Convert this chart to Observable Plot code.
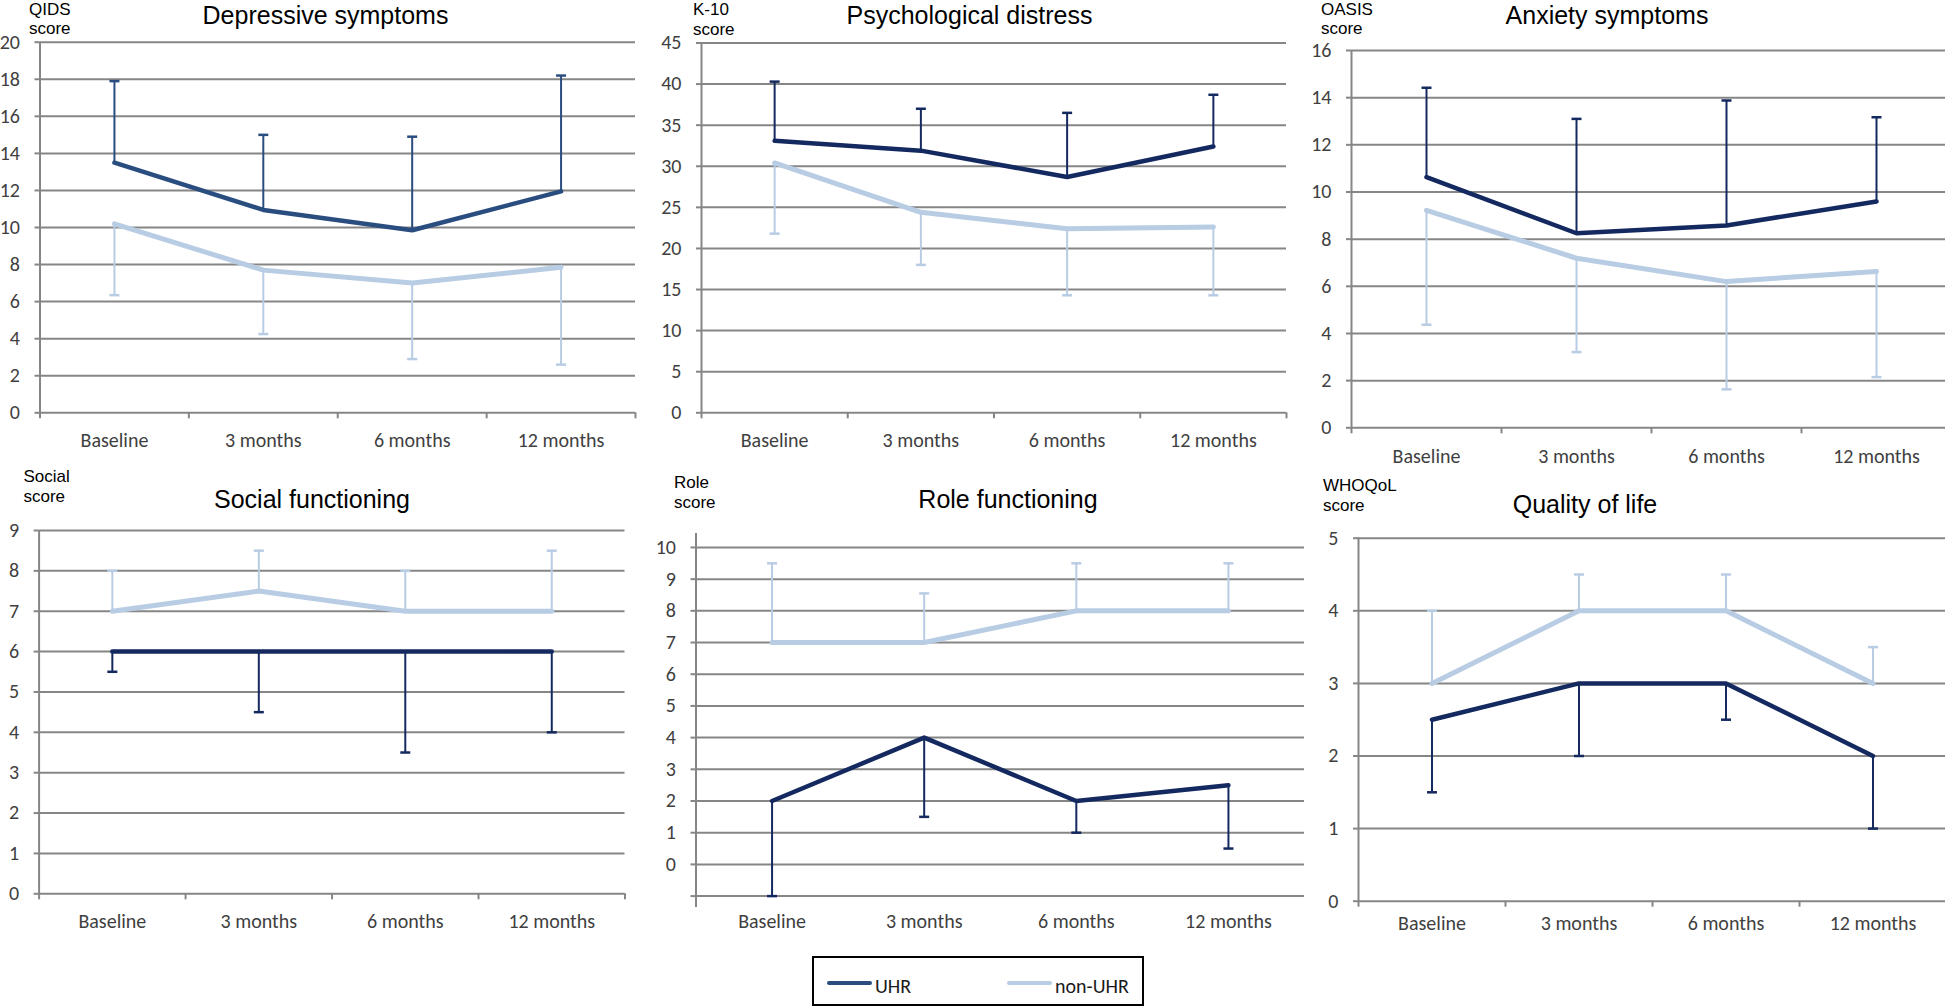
<!DOCTYPE html>
<html>
<head>
<meta charset="utf-8">
<script src="https://cdn.jsdelivr.net/npm/d3@7"></script>
<script src="https://cdn.jsdelivr.net/npm/@observablehq/plot@0.6"></script>
<style>
  html, body { margin: 0; padding: 0; background: #fff; }
  #root { position: relative; width: 1945px; height: 1006px; overflow: hidden; background: #fff;
          font-family: "Liberation Sans", Arial, sans-serif; }
  .t { position: absolute; white-space: nowrap; color: #000; }
  .panel { position: absolute; }
  .panel svg { overflow: visible; max-width: none !important; }
</style>
</head>
<body>
<div id="root"></div>
<script>
// ---------------- DATA ----------------
const timepoints = ["Baseline", "3 months", "6 months", "12 months"];
const seriesNames = ["UHR", "non-UHR"];

// Depressive symptoms (QIDS)
const depUHR      = [13.5, 10.95, 9.85, 11.95];
const depUHRErr   = [17.9, 15.0, 14.9, 18.2];
const depNon      = [10.2, 7.7, 7.0, 7.85];
const depNonErr   = [6.35, 4.25, 2.9, 2.6];
const depTicks    = [0, 2, 4, 6, 8, 10, 12, 14, 16, 18, 20];

// Psychological distress (K-10)
const k10UHR      = [33.1, 31.9, 28.7, 32.4];
const k10UHRErr   = [40.3, 37.0, 36.5, 38.7];
const k10Non      = [30.4, 24.4, 22.4, 22.6];
const k10NonErr   = [21.8, 18.0, 14.3, 14.3];
const k10Ticks    = [0, 5, 10, 15, 20, 25, 30, 35, 40, 45];

// Anxiety symptoms (OASIS)
const oasisUHR    = [10.63, 8.25, 8.58, 9.6];
const oasisUHRErr = [14.42, 13.1, 13.88, 13.17];
const oasisNon    = [9.22, 7.19, 6.2, 6.63];
const oasisNonErr = [4.37, 3.21, 1.63, 2.15];
const oasisTicks  = [0, 2, 4, 6, 8, 10, 12, 14, 16];

// Social functioning
const socUHR      = [6, 6, 6, 6];
const socUHRErr   = [5.5, 4.5, 3.5, 4.0];
const socNon      = [7, 7.5, 7, 7];
const socNonErr   = [8, 8.5, 8, 8.5];
const socTicks    = [0, 1, 2, 3, 4, 5, 6, 7, 8, 9];

// Role functioning
const roleUHR     = [2, 4, 2, 2.5];
const roleUHRErr  = [-1, 1.5, 1, 0.5];
const roleNon     = [7, 7, 8, 8];
const roleNonErr  = [9.5, 8.55, 9.5, 9.5];
const roleGrid    = [-1, 0, 1, 2, 3, 4, 5, 6, 7, 8, 9, 10];
const roleTicks   = [0, 1, 2, 3, 4, 5, 6, 7, 8, 9, 10];

// Quality of life (WHOQoL)
const qolUHR      = [2.5, 3, 3, 2];
const qolUHRErr   = [1.5, 2, 2.5, 1];
const qolNon      = [3, 4, 4, 3];
const qolNonErr   = [4, 4.5, 4.5, 3.5];
const qolTicks    = [0, 1, 2, 3, 4, 5];

// ---------------- STYLE ----------------
const GRID = "#868686";
const TICKTXT = "#3f3f3f";
const NON_COLOR = "#b8cce4";
const UHR_LIGHT = "#2a4d80";
const UHR_DARK = "#14295f";
const TICK_FONT = "Carlito, 'Liberation Sans', Arial, sans-serif";
const TICK_SIZE = 20;

const capSymbol = {
  draw(ctx, size) {
    const r = Math.sqrt(size / Math.PI);
    ctx.moveTo(-r, 0);
    ctx.lineTo(r, 0);
  }
};

const panels = [
  { title: "Depressive symptoms", unit: "QIDS",
    uhr: depUHR, uhrErr: depUHRErr, non: depNon, nonErr: depNonErr,
    domain: [0, 20], grid: depTicks, labels: depTicks, uhrColor: UHR_LIGHT, xTicks: true,
    L: { left: 0, top: 0, w: 650, h: 470, x0: 39.5, x1: 635, yTop: 41.7, yBot: 412.3, pad: 20,
         tx: 325.5, tb: 24, ux: 29, ub1: 16, ub2: 35 } },
  { title: "Psychological distress", unit: "K-10",
    uhr: k10UHR, uhrErr: k10UHRErr, non: k10Non, nonErr: k10NonErr,
    domain: [0, 45], grid: k10Ticks, labels: k10Ticks, uhrColor: UHR_DARK, xTicks: true,
    L: { left: 650, top: 0, w: 650, h: 470, x0: 701, x1: 1286, yTop: 42.5, yBot: 412.3, pad: 20,
         tx: 969.5, tb: 24, ux: 693, ub1: 16, ub2: 36 } },
  { title: "Anxiety symptoms", unit: "OASIS",
    uhr: oasisUHR, uhrErr: oasisUHRErr, non: oasisNon, nonErr: oasisNonErr,
    domain: [0, 16], grid: oasisTicks, labels: oasisTicks, uhrColor: UHR_DARK, xTicks: true,
    L: { left: 1300, top: 0, w: 660, h: 480, x0: 1351, x1: 1951, yTop: 50, yBot: 427.3, pad: 21,
         tx: 1607, tb: 24, ux: 1321, ub1: 16, ub2: 35 } },
  { title: "Social functioning", unit: "Social",
    uhr: socUHR, uhrErr: socUHRErr, non: socNon, nonErr: socNonErr,
    domain: [0, 9], grid: socTicks, labels: socTicks, uhrColor: UHR_DARK, xTicks: true,
    L: { left: 0, top: 470, w: 650, h: 480, x0: 38.6, x1: 624.5, yTop: 530, yBot: 893.3, pad: 20,
         tx: 312, tb: 508, ux: 23.5, ub1: 483, ub2: 503 } },
  { title: "Role functioning", unit: "Role",
    uhr: roleUHR, uhrErr: roleUHRErr, non: roleNon, nonErr: roleNonErr,
    domain: [-1.36, 10.44], grid: roleGrid, labels: roleTicks, uhrColor: UHR_DARK, xTicks: false,
    L: { left: 650, top: 470, w: 670, h: 480, x0: 695.5, x1: 1304, yTop: 533, yBot: 907, pad: 6,
         tx: 1008, tb: 508, ux: 674, ub1: 489, ub2: 509 } },
  { title: "Quality of life", unit: "WHOQoL",
    uhr: qolUHR, uhrErr: qolUHRErr, non: qolNon, nonErr: qolNonErr,
    domain: [0, 5], grid: qolTicks, labels: qolTicks, uhrColor: UHR_DARK, xTicks: true,
    L: { left: 1300, top: 470, w: 660, h: 480, x0: 1358, x1: 1946, yTop: 537.7, yBot: 900.7, pad: 15,
         tx: 1585, tb: 513, ux: 1323, ub1: 492, ub2: 512 } }
];

const root = document.getElementById("root");

function addText(str, x, baseline, size, anchor) {
  const d = document.createElement("div");
  d.className = "t";
  d.textContent = str;
  d.style.fontSize = size + "px";
  d.style.lineHeight = (0.8 * size) + "px";
  d.style.top = (baseline - 0.7465 * size) + "px";
  d.style.left = x + "px";
  if (anchor === "middle") d.style.transform = "translateX(-50%)";
  root.appendChild(d);
  return d;
}

for (const p of panels) {
  const L = p.L;
  const rows = timepoints.map((t, i) => ({
    xi: i + 0.5, t,
    uhr: p.uhr[i], uhrErr: p.uhrErr[i],
    non: p.non[i], nonErr: p.nonErr[i]
  }));
  const marks = [
    Plot.gridY({ticks: p.grid, stroke: GRID, strokeOpacity: 1, strokeWidth: 2}),
    Plot.axisY({ticks: p.grid, label: null, tickSize: 5, tickPadding: 15,
      tickFormat: d => p.labels.includes(d) ? String(d) : "",
      stroke: GRID, strokeWidth: 2, strokeOpacity: 1, fill: TICKTXT, fontSize: TICK_SIZE, fontFamily: TICK_FONT}),
    Plot.ruleX([0], {y1: p.domain[0], y2: p.domain[1], stroke: GRID, strokeWidth: 2}),
    Plot.axisX({ticks: [0, 1, 2, 3, 4], label: null, tickSize: p.xTicks ? 6 : 0, tickFormat: () => "",
      stroke: GRID, strokeWidth: 2, strokeOpacity: 1}),
    Plot.axisX({ticks: [0.5, 1.5, 2.5, 3.5], label: null, tickSize: 0, tickPadding: L.pad,
      tickFormat: d => timepoints[Math.floor(d)], fill: TICKTXT, fontSize: TICK_SIZE, fontFamily: TICK_FONT}),
    // error bars
    Plot.ruleX(rows, {x: "xi", y1: "non", y2: "nonErr", stroke: NON_COLOR, strokeWidth: 2}),
    Plot.dot(rows, {x: "xi", y: "nonErr", symbol: capSymbol, r: 5, stroke: NON_COLOR, strokeWidth: 2.5, fill: "none"}),
    Plot.ruleX(rows, {x: "xi", y1: "uhr", y2: "uhrErr", stroke: p.uhrColor, strokeWidth: 2}),
    Plot.dot(rows, {x: "xi", y: "uhrErr", symbol: capSymbol, r: 5, stroke: p.uhrColor, strokeWidth: 2.5, fill: "none"}),
    // lines
    Plot.line(rows, {x: "xi", y: "non", stroke: NON_COLOR, strokeWidth: 5, strokeLinejoin: "round"}),
    Plot.line(rows, {x: "xi", y: "uhr", stroke: p.uhrColor, strokeWidth: 4.5, strokeLinejoin: "round"})
  ];
  const svg = Plot.plot({
    width: L.w, height: L.h,
    marginLeft: L.x0 - L.left,
    marginRight: L.left + L.w - L.x1,
    marginTop: L.yTop - L.top,
    marginBottom: L.top + L.h - L.yBot,
    x: {type: "linear", domain: [0, 4], label: null},
    y: {type: "linear", domain: p.domain, label: null},
    style: {background: "transparent", overflow: "visible", fontFamily: TICK_FONT, fontSize: TICK_SIZE + "px", color: TICKTXT},
    marks
  });
  const wrap = document.createElement("div");
  wrap.className = "panel";
  wrap.style.left = L.left + "px";
  wrap.style.top = L.top + "px";
  wrap.style.width = L.w + "px";
  wrap.style.height = L.h + "px";
  wrap.appendChild(svg);
  root.appendChild(wrap);

  addText(p.title, L.tx, L.tb, 25, "middle");
  addText(p.unit, L.ux, L.ub1, 17);
  addText("score", L.ux, L.ub2, 17);
}

// Legend
const legend = document.createElement("div");
legend.style.cssText = "position:absolute;left:812px;top:956px;width:328px;height:46px;border:2px solid #000;background:#fff;";
root.appendChild(legend);
const legendColors = ["#2b4c7e", NON_COLOR];
const legendX = [827, 1007];
seriesNames.forEach((name, i) => {
  const ln = document.createElement("div");
  ln.style.cssText = `position:absolute;left:${legendX[i]}px;top:981px;width:45px;height:4px;background:${legendColors[i]};border-radius:2px;`;
  root.appendChild(ln);
  const t = addText(name, legendX[i] + 48, 993, 20);
  t.style.fontFamily = TICK_FONT;
  t.style.color = "#1a1a1a";
});
</script>
</body>
</html>
